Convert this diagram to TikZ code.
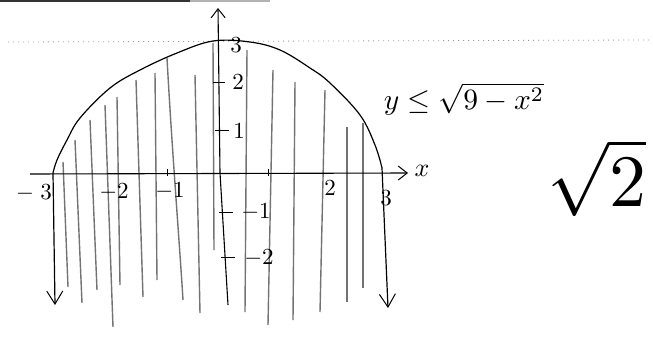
\documentclass[tikz,border=0pt]{standalone}
\usepackage{graphicx}
\usetikzlibrary{arrows.meta}
\newcommand{\sz}[2]{\scalebox{#1}{#2}}
\begin{document}
\begin{tikzpicture}[x=1pt,y=-1pt,
  axisline/.style={line width=1.1pt,black},
  hatch/.style={line width=1.4pt,black!55},
  tip/.style={-{Straight Barb[length=9pt,width=14pt,line width=1pt]}},
  lbl/.style={inner sep=0pt},
  tickmark/.style={line width=1pt}]
\useasboundingbox (0,0) rectangle (653,343);
% scan artefacts
\fill[black!80] (0,0) rectangle (190,2);
\fill[black!30] (190,0) rectangle (270,1.5);
\draw[black!40,line width=0.8pt,dash pattern=on 1pt off 4pt] (8,42) -- (650,40);
% hatching
\foreach \a/\b/\c/\d in {63/162/68/287, 75/140/82/303, 90/120/97/290, 105/105/113/327,
  117/97/120/285, 136/80/143/297, 155/73/157/280, 195/75/200/313, 213/43/214/250,
  247/50/245/312, 273/70/268/325, 295/82/293/320, 325/90/320/312, 347/127/347/302, 363/123/363/288}
  \draw[hatch] (\a,\b) -- (\c,\d);
\draw[hatch] (167,58) .. controls (172,150) and (180,250) .. (183,300);
% axes
\coordinate (xs) at (30,174);
\coordinate (xe) at (408,173);
\coordinate (ys) at (228,305);
\coordinate (ym) at (220,173);
\coordinate (ye) at (218,8);
\draw[axisline,tip] (xs) -- (xe);
\draw[axisline,tip] (ys) -- (ym) -- (ye);
\node[lbl] (xl) at (422,171) {\sz{2.6}{$x$}};
% curve
\coordinate (cl) at (53,173);
\coordinate (cr) at (382,168);
\draw[line width=1.2pt] plot[smooth,tension=0.6] coordinates {(53,173)(57,160)(67,140)(80,118)(110,88)(140,70)(177,53)(213,41)(250,42)(280,50)(310,68)(330,83)(360,115)(375,145)(382,168)};
\coordinate (al) at (55,305);
\coordinate (ar) at (388,308);
\draw[line width=1.2pt,-{Straight Barb[length=13pt,width=16pt,line width=1pt]}] (cl) -- (al);
\draw[line width=1.2pt,-{Straight Barb[length=13pt,width=16pt,line width=1pt]}] (cr) -- (ar);
% y ticks and labels
\draw[tickmark] (213,82) -- (225,82);
\draw[tickmark] (215,130) -- (229,130);
\draw[tickmark] (219,212) -- (233,212);
\draw[tickmark] (221,257) -- (235,257);
\node[lbl] (y3) at (236,45) {\sz{2.3}{3}};
\node[lbl] (y2) at (238,82) {\sz{2.3}{2}};
\node[lbl] (y1) at (239,131) {\sz{2.3}{1}};
\node[lbl] (ym1) at (256,212) {\sz{2.3}{$-1$}};
\node[lbl] (ym2) at (259,258) {\sz{2.3}{$-2$}};
% x ticks and labels
\draw[tickmark] (167,169) -- (167,176);
\draw[tickmark] (268,169) -- (268,176);
\node[lbl] (xm3) at (34,193) {\sz{2.3}{$-\;3$}};
\node[lbl] (xm2) at (114,192) {\sz{2.3}{$-2$}};
\node[lbl] (xm1) at (170,191) {\sz{2.3}{$-1$}};
\node[lbl] (x2) at (330,188) {\sz{2.3}{2}};
\node[lbl] (x3) at (386,198) {\sz{2.3}{3}};
% formula
\node[lbl] (f) at (464,99) {\sz{2.95}{$y\leq\sqrt{9-x^{2}}$}};
\node[lbl] (r) at (597,178) {\sz{7.4}{$\sqrt{2}$}};
\end{tikzpicture}
\end{document}
